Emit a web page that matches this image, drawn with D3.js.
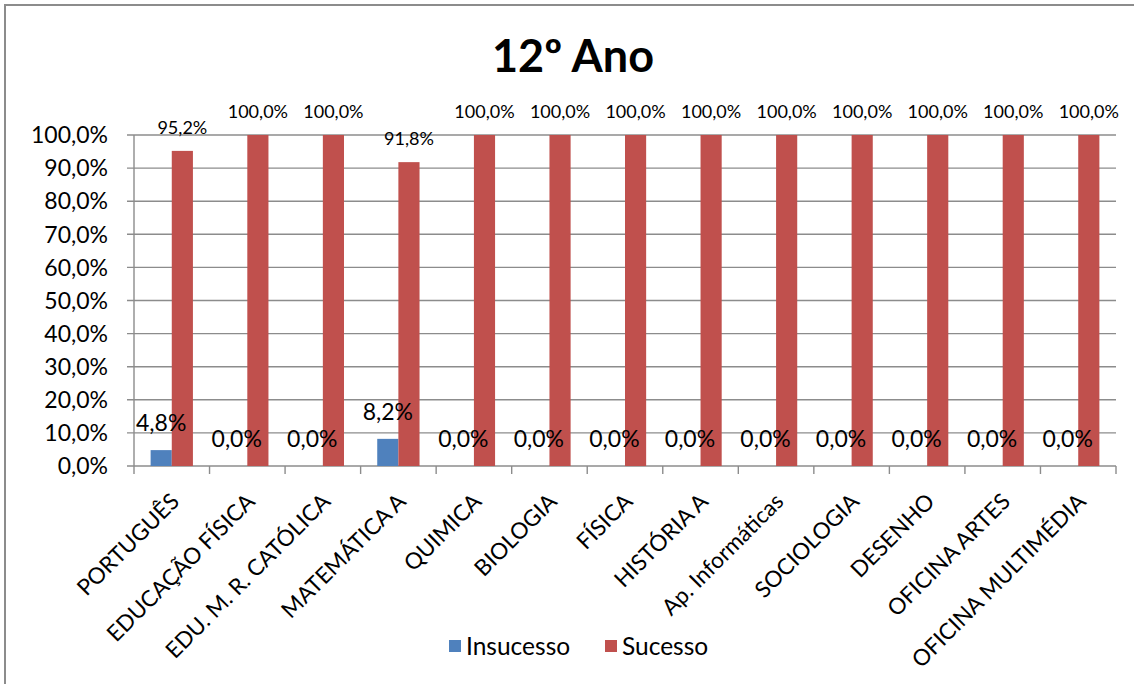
<!DOCTYPE html>
<html>
<head>
<meta charset="utf-8">
<script src="https://cdn.jsdelivr.net/npm/d3@7"></script>
<style>
  html, body { margin: 0; padding: 0; background: #fff; }
  svg { display: block; }
  text { font-family: Lato, "Open Sans", sans-serif; fill: #000; }
</style>
</head>
<body>
<svg id="chart" width="1134" height="684"></svg>
<script>
// Subjects of the 12th year
const categories = [
  "PORTUGUÊS", "EDUCAÇÃO FÍSICA", "EDU. M. R. CATÓLICA", "MATEMÁTICA A",
  "QUIMICA", "BIOLOGIA", "FÍSICA", "HISTÓRIA A", "Ap.  Informáticas",
  "SOCIOLOGIA", "DESENHO", "OFICINA ARTES", "OFICINA MULTIMÉDIA"
];
const seriesNames = ["Insucesso", "Sucesso"];
// Percentages per subject
const insucesso = [4.8, 0, 0, 8.2, 0, 0, 0, 0, 0, 0, 0, 0, 0];
const sucesso = [95.2, 100, 100, 91.8, 100, 100, 100, 100, 100, 100, 100, 100, 100];
const yTicks = [0, 10, 20, 30, 40, 50, 60, 70, 80, 90, 100];
const colors = { Insucesso: "#4F81BD", Sucesso: "#C0504D" };

const svg = d3.select("#chart");
const plot = { left: 134, right: 1116, top: 135, bottom: 466 };
const fmt = v => v.toFixed(1).replace(".", ",") + "%";

// Frame of the chart area
svg.append("path")
  .attr("d", "M5,684 L5,5 L1134,5")
  .attr("fill", "none")
  .attr("stroke", "#8c8c8c")
  .attr("stroke-width", 2);

// Title
svg.append("text")
  .attr("x", 573).attr("y", 72)
  .attr("text-anchor", "middle")
  .style("font-size", "45px")
  .style("font-weight", "bold")
  .text("12º Ano");

const y = d3.scaleLinear().domain([0, 100]).range([plot.bottom, plot.top]);
const x0 = d3.scaleBand().domain(categories)
  .range([plot.left, plot.right])
  .paddingInner(0.44).paddingOuter(0.22);
const x1 = d3.scaleBand().domain(seriesNames).range([0, x0.bandwidth()]);
const step = x0.step();
const catStart = c => x0(c) - step * 0.22;

// Horizontal gridlines
svg.append("g").selectAll("line").data(yTicks).join("line")
  .attr("x1", plot.left - 7).attr("x2", plot.right)
  .attr("y1", d => y(d)).attr("y2", d => y(d))
  .attr("stroke", "#8c8c8c").attr("stroke-width", 1.4);

// Y axis line and labels
svg.append("line")
  .attr("x1", plot.left).attr("x2", plot.left)
  .attr("y1", plot.top).attr("y2", plot.bottom)
  .attr("stroke", "#8c8c8c").attr("stroke-width", 1.4);
svg.append("g").selectAll("text").data(yTicks).join("text")
  .attr("x", 108).attr("y", d => y(d))
  .attr("dy", "0.36em")
  .attr("text-anchor", "end")
  .style("font-size", "23px")
  .text(d => fmt(d));

// X axis tick marks at category boundaries
const bounds = d3.range(categories.length + 1).map(i => plot.left + i * step);
svg.append("g").selectAll("line").data(bounds).join("line")
  .attr("x1", d => d).attr("x2", d => d)
  .attr("y1", plot.bottom).attr("y2", plot.bottom + 8)
  .attr("stroke", "#8c8c8c").attr("stroke-width", 1.4);

// Bars
const rows = categories.map((c, i) => ({ cat: c, Insucesso: insucesso[i], Sucesso: sucesso[i] }));
const groups = svg.append("g").selectAll("g").data(rows).join("g")
  .attr("transform", d => `translate(${x0(d.cat)},0)`);
groups.selectAll("rect").data(d => seriesNames.map(s => ({ s, v: d[s] }))).join("rect")
  .attr("x", d => x1(d.s))
  .attr("width", x1.bandwidth())
  .attr("y", d => y(d.v))
  .attr("height", d => y(0) - y(d.v))
  .attr("fill", d => colors[d.s]);

// Value labels
groups.selectAll("text").data(d => seriesNames.map(s => ({ s, v: d[s] }))).join("text")
  .attr("x", d => x1(d.s) + x1.bandwidth() / 2)
  .attr("y", d => y(d.v) - (d.s === "Sucesso" ? 17 : 19))
  .attr("text-anchor", "middle")
  .style("font-size", d => d.s === "Sucesso" ? "18px" : "23px")
  .text(d => fmt(d.v));

// Category labels, rotated
svg.append("g").selectAll("text").data(categories).join("text")
  .attr("transform", c => `translate(${catStart(c) + step / 2 - 3},${plot.bottom + 25}) rotate(-45)`)
  .attr("dy", "0.75em")
  .attr("text-anchor", "end")
  .style("font-size", "22.5px")
  .text(c => c);

// Legend
const legend = svg.append("g");
const legendItems = [
  { name: "Insucesso", x: 449 },
  { name: "Sucesso", x: 605 }
];
legend.selectAll("rect").data(legendItems).join("rect")
  .attr("x", d => d.x).attr("y", 640)
  .attr("width", 12).attr("height", 12)
  .attr("fill", d => colors[d.name]);
legend.selectAll("text").data(legendItems).join("text")
  .attr("x", d => d.x + 17).attr("y", 655)
  .style("font-size", "24.5px")
  .text(d => d.name);
</script>
</body>
</html>
